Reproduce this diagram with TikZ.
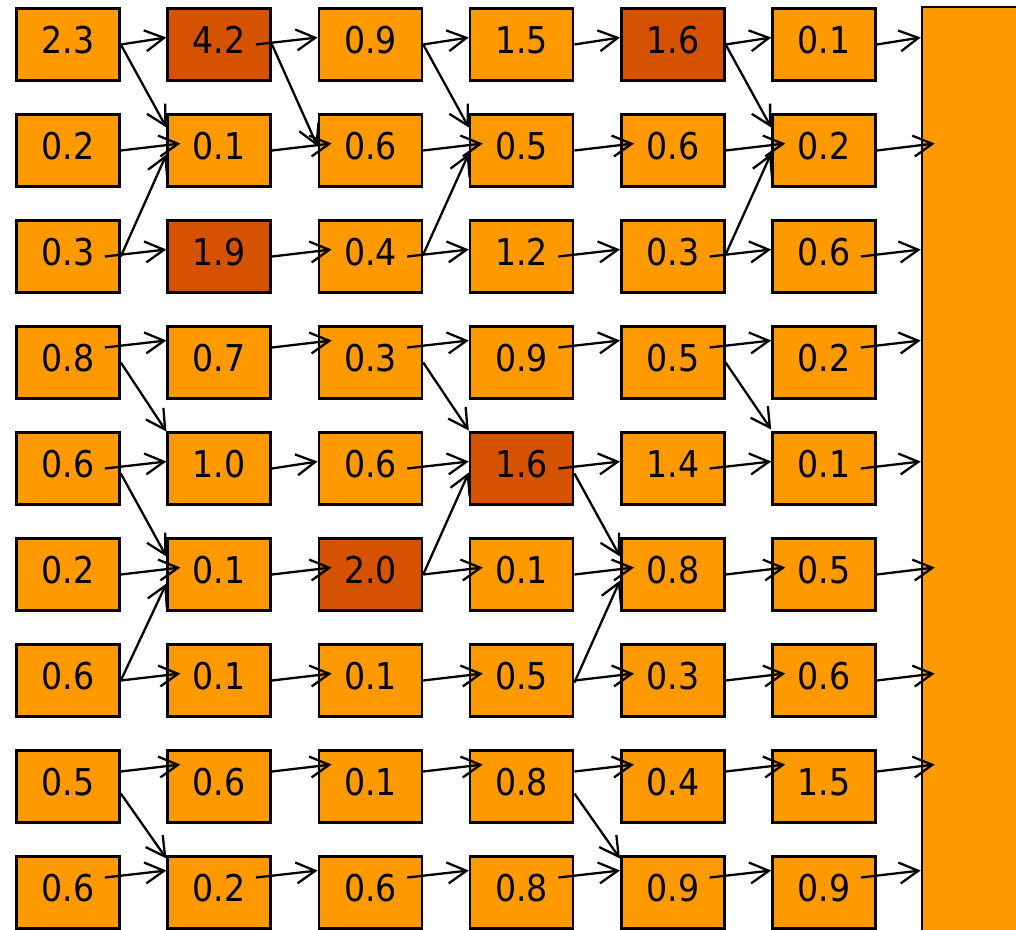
\documentclass[tikz,border=0pt]{standalone}
\usepackage{fontspec}
\setmainfont{DejaVu Sans Condensed}
\usetikzlibrary{arrows.meta,calc}

\definecolor{cellfill}{RGB}{255,153,0}
\definecolor{peakfill}{RGB}{213,82,0}

\tikzset{
  cell/.style={draw=black, line width=1.5pt, fill=cellfill, inner sep=0pt,
    minimum width=2.06cm, minimum height=1.44cm,
    text height=15.3pt, text depth=5.1pt, font=\fontsize{21}{25}\selectfont},
  peak/.style={cell, fill=peakfill},
  sinkbox/.style={draw=black, line width=1.5pt, fill=cellfill, inner sep=0pt,
    minimum width=2cm, minimum height=18.92cm},
  link/.style={-{Straight Barb[length=0.38cm,width=0.42cm]}, line width=1.3pt},
}

\begin{document}
\begin{tikzpicture}[x=0.02cm,y=-0.02cm]
\useasboundingbox (0,0) rectangle (1016,929);
\clip (0,0) rectangle (1016,929);

% grid of values
\foreach \vals [count=\r] in {
  {2.3/cell,4.2/peak,0.9/cell,1.5/cell,1.6/peak,0.1/cell},
  {0.2/cell,0.1/cell,0.6/cell,0.5/cell,0.6/cell,0.2/cell},
  {0.3/cell,1.9/peak,0.4/cell,1.2/cell,0.3/cell,0.6/cell},
  {0.8/cell,0.7/cell,0.3/cell,0.9/cell,0.5/cell,0.2/cell},
  {0.6/cell,1.0/cell,0.6/cell,1.6/peak,1.4/cell,0.1/cell},
  {0.2/cell,0.1/cell,2.0/peak,0.1/cell,0.8/cell,0.5/cell},
  {0.6/cell,0.1/cell,0.1/cell,0.5/cell,0.3/cell,0.6/cell},
  {0.5/cell,0.6/cell,0.1/cell,0.8/cell,0.4/cell,1.5/cell},
  {0.6/cell,0.2/cell,0.6/cell,0.8/cell,0.9/cell,0.9/cell}}
  \foreach \v/\s [count=\c] in \vals
    \node[\s] (n-\r-\c) at ({68+151.2*(\c-1)},{44.5+106*(\r-1)}) {\v};

% collecting column
\node[sinkbox] (sink) at (972,480) {};

% straight links, kind 0: edge to edge, 1: from inside, 2: into box
\foreach \r/\dy/\k/\kk in {1/0/0/1, 2/0/2/2, 3/0/1/2, 4/-15/1/2, 5/0/1/0,
                           6/0/2/2, 7/0/2/2, 8/-15/2/2, 9/-15/1/1}
  \foreach \c in {1,...,6} {
    \pgfmathtruncatemacro\nc{\c+1}
    \pgfmathtruncatemacro\kind{\c==2 ? \kk : \k}
    \pgfmathsetmacro\sx{\kind==1 ? -16 : 0}
    \pgfmathsetmacro\ex{\kind==2 ? 14 : 0}
    \ifnum\c<6 \def\tgt{n-\r-\nc.west}\else\def\tgt{sink.west |- n-\r-6}\fi
    \draw[link] ($(n-\r-\c.east)+(\sx,\dy)$) -- ($(\tgt)+(\ex,\dy-7)$);
  }

% slanted links
\foreach \a/\b/\sy/\ey in {n-1-1/n-2-2/0/-23, n-3-1/n-2-2/0/4, n-4-1/n-5-2/0/-37,
    n-5-1/n-6-2/5/-18, n-7-1/n-6-2/0/9, n-8-1/n-9-2/7/-34,
    n-1-2/n-2-3/0/-4,
    n-1-3/n-2-4/0/-23, n-3-3/n-2-4/-2/3, n-4-3/n-5-4/0/-38, n-6-3/n-5-4/0/4,
    n-5-4/n-6-5/5/-18, n-7-4/n-6-5/2/6, n-8-4/n-9-5/7/-34,
    n-1-5/n-2-6/0/-23, n-3-5/n-2-6/-2/3, n-4-5/n-5-6/0/-39}
  \draw[link] ($(\a.east)+(0,\sy)$) -- ($(\b.west)+(0,\ey)$);
\end{tikzpicture}
\end{document}
